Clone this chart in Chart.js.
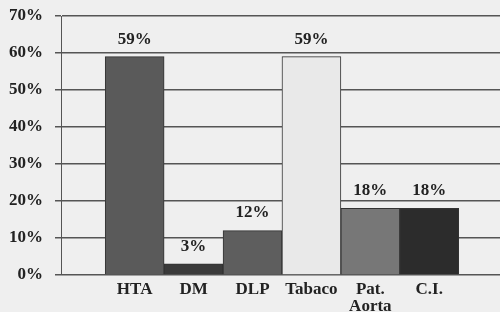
<!DOCTYPE html>
<html lang="es">
<head>
    <meta charset="UTF-8">
    <title>Factores de riesgo</title>
    <script src="https://cdn.jsdelivr.net/npm/chart.js"></script>
    <style>
        html, body { margin: 0; padding: 0; background: #efefef; }
        #wrap { width: 500px; height: 312px; position: relative; }
    </style>
</head>
<body>
    <div id="wrap"><canvas id="chart"></canvas></div>

    <script>
        // Datos
        const categories = ['HTA', 'DM', 'DLP', 'Tabaco', ['Pat.', 'Aorta'], 'C.I.'];
        const values = [59, 3, 12, 59, 18, 18];
        const barColors = ['#5a5a5a', '#3a3a3a', '#5e5e5e', '#e9e9e9', '#777777', '#2c2c2c'];
        const yTicks = [0, 10, 20, 30, 40, 50, 60, 70];

        const serif = "'Liberation Serif', 'Times New Roman', serif";

        // Etiquetas encima de las barras
        const valueLabels = {
            id: 'valueLabels',
            afterDatasetsDraw(chart) {
                const ctx = chart.ctx;
                const meta = chart.getDatasetMeta(0);
                ctx.save();
                ctx.font = 'bold 17px ' + serif;
                ctx.fillStyle = '#222';
                ctx.textAlign = 'center';
                ctx.textBaseline = 'bottom';
                meta.data.forEach((bar, i) => {
                    ctx.fillText(values[i] + '%', bar.x, bar.y - 9);
                });
                ctx.restore();
            }
        };

        const ctx = document.getElementById('chart').getContext('2d');
        const chart = new Chart(ctx, {
            type: 'bar',
            data: {
                datasets: [{
                    data: values.map((v, i) => ({ x: i, y: v })),
                    backgroundColor: barColors,
                    borderColor: '#333',
                    borderWidth: 1,
                    categoryPercentage: 1,
                    barPercentage: 1
                }]
            },
            options: {
                responsive: true,
                maintainAspectRatio: false,
                animation: false,
                layout: { padding: { top: 16, right: 0, left: 0, bottom: 0 } },
                plugins: {
                    legend: { display: false },
                    tooltip: { enabled: false }
                },
                scales: {
                    x: {
                        type: 'linear',
                        offset: false,
                        bounds: 'data',
                        min: -1.25,
                        max: 6.2,
                        grid: { display: false, offset: false },
                        border: { display: false },
                        afterBuildTicks(scale) { scale.ticks = categories.map((c, i) => ({ value: i })); },
                        afterFit(scale) {
                            scale.height = 37;
                            scale.paddingLeft = 0;
                            scale.paddingRight = 0;
                        },
                        ticks: {
                            autoSkip: false,
                            maxRotation: 0,
                            padding: -1,
                            color: '#222',
                            font: { family: serif, size: 17, weight: 'bold', lineHeight: 0.95 },
                            callback: (v) => categories[v]
                        }
                    },
                    y: {
                        min: 0,
                        max: 70,
                        afterBuildTicks(scale) { scale.ticks = yTicks.map(v => ({ value: v })); },
                        afterFit(scale) {
                            scale.width = 61;
                            scale.paddingTop = 0;
                            scale.paddingBottom = 0;
                        },
                        grid: { color: '#555', lineWidth: 1.5, tickLength: 6 },
                        border: { color: '#555', width: 1 },
                        ticks: {
                            padding: 12,
                            color: '#222',
                            font: { family: serif, size: 17, weight: 'bold' },
                            callback: (v) => v + '%'
                        }
                    }
                }
            },
            plugins: [valueLabels]
        });
    </script>
</body>
</html>
